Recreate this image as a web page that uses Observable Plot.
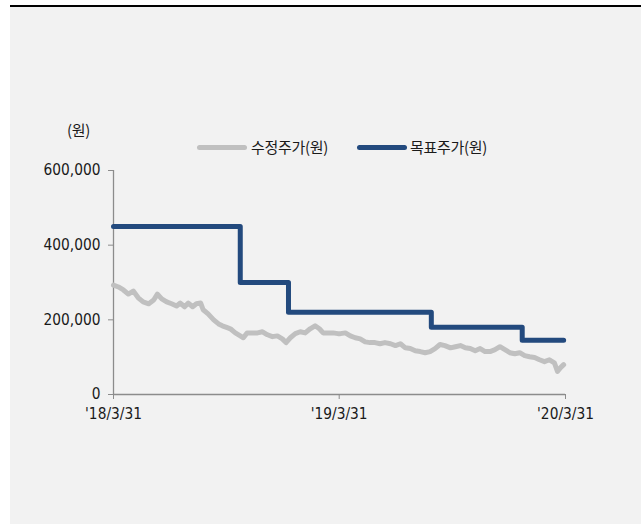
<!DOCTYPE html>
<html><head><meta charset="utf-8">
<script src="https://cdn.jsdelivr.net/npm/d3@7"></script>
<script src="https://cdn.jsdelivr.net/npm/@observablehq/plot@0.6"></script>
<style>
html,body{margin:0;padding:0;background:#fff;}
#wrap{position:relative;width:641px;height:524px;overflow:hidden;font-family:"Liberation Sans Narrow","DejaVu Sans Condensed","Noto Sans CJK KR",sans-serif;}
#bg{position:absolute;left:10px;top:5px;width:631px;height:519px;background:#f2f2f2;border-top:2.5px solid #000;box-sizing:border-box;}
#chart{position:absolute;left:0;top:0;}
.lbl{position:absolute;font-size:15px;color:#1a1a1a;font-family:"Noto Sans CJK KR",sans-serif;white-space:nowrap;line-height:1;letter-spacing:-0.3px;}
.sw{position:absolute;height:5px;border-radius:3px;}
</style></head>
<body><div id="wrap"><div id="bg"></div><div id="chart"></div>
<div class="lbl" style="left:67px;top:122px;">(원)</div>
<div class="sw" style="left:197px;top:145px;width:50px;background:#c0c0c0;"></div>
<div class="lbl" id="l1" style="left:251px;top:139px;"></div>
<div class="sw" style="left:357px;top:145px;width:50px;background:#234a7e;"></div>
<div class="lbl" id="l2" style="left:410px;top:139px;"></div>
</div>
<script>
const seriesNames = ["수정주가(원)", "목표주가(원)"];
const yTicks = [0, 200000, 400000, 600000];
const xTickDates = ["2018-03-31", "2019-03-31", "2020-03-31"];
const xTickLabels = ["'18/3/31", "'19/3/31", "'20/3/31"];

const priceDates = ["2018-03-31","2018-04-08","2018-04-16","2018-04-24","2018-05-02","2018-05-10","2018-05-18","2018-05-27","2018-06-04","2018-06-10","2018-06-17","2018-06-25","2018-07-03","2018-07-11","2018-07-17","2018-07-24","2018-07-30","2018-08-06","2018-08-12","2018-08-19","2018-08-23","2018-08-31","2018-09-09","2018-09-17","2018-09-23","2018-10-01","2018-10-06","2018-10-14","2018-10-22","2018-10-27","2018-11-02","2018-11-10","2018-11-19","2018-11-27","2018-12-05","2018-12-13","2018-12-21","2018-12-29","2019-01-04","2019-01-11","2019-01-19","2019-01-27","2019-02-04","2019-02-12","2019-02-20","2019-02-27","2019-03-05","2019-03-13","2019-03-21","2019-03-29","2019-04-02","2019-04-10","2019-04-18","2019-04-26","2019-05-04","2019-05-12","2019-05-20","2019-05-28","2019-06-05","2019-06-13","2019-06-22","2019-06-30","2019-07-08","2019-07-16","2019-07-24","2019-08-01","2019-08-09","2019-08-17","2019-08-25","2019-09-02","2019-09-10","2019-09-18","2019-09-27","2019-10-05","2019-10-13","2019-10-21","2019-10-29","2019-11-06","2019-11-14","2019-11-22","2019-11-30","2019-12-08","2019-12-16","2019-12-24","2020-01-01","2020-01-09","2020-01-17","2020-01-25","2020-02-02","2020-02-10","2020-02-18","2020-02-26","2020-03-05","2020-03-13","2020-03-18","2020-03-23","2020-03-28"];
const priceValues = [293000,288000,280000,269000,277000,259000,248000,243000,253000,269000,256000,248000,243000,237000,245000,235000,245000,235000,243000,245000,227000,216000,200000,189000,184000,179000,176000,165000,157000,152000,165000,165000,165000,168000,160000,155000,157000,149000,139000,152000,163000,168000,165000,176000,184000,176000,165000,165000,165000,163000,163000,165000,157000,152000,149000,141000,139000,139000,136000,139000,136000,131000,136000,125000,123000,117000,115000,112000,115000,123000,134000,131000,125000,128000,131000,125000,123000,117000,123000,115000,115000,120000,128000,120000,112000,109000,112000,104000,101000,99000,93000,88000,93000,85000,62000,72000,80000];

const targetDates = ["2018-03-31","2018-10-22","2019-01-08","2019-08-27","2020-01-21","2020-03-28"];
const targetValues = [450000,300000,220000,180000,145000,145000];

document.getElementById("l1").textContent = seriesNames[0];
document.getElementById("l2").textContent = seriesNames[1];

const parse = d3.utcParse("%Y-%m-%d");
const price = priceDates.map((d,i)=>({date:parse(d), value:priceValues[i]}));
const target = targetDates.map((d,i)=>({date:parse(d), value:targetValues[i]}));
const xTicks = xTickDates.map(parse);

const axisColor = "#8c8c8c";
const chart = Plot.plot({
  width: 641, height: 524,
  marginLeft: 113, marginRight: 76, marginTop: 170, marginBottom: 130,
  style: {background: "transparent", fontFamily: '"Liberation Sans Narrow","DejaVu Sans Condensed",sans-serif', fontSize: "15.3px", color: "#1a1a1a"},
  x: {type: "utc", domain: [xTicks[0], xTicks[2]]},
  y: {domain: [0, 600000]},
  marks: [
    Plot.ruleX([xTicks[0]], {y1: 0, y2: 600000, stroke: axisColor, strokeWidth: 1.3}),
    Plot.ruleY([0], {x1: xTicks[0], x2: xTicks[2], stroke: axisColor, strokeWidth: 1.3}),
    Plot.axisY({ticks: yTicks, tickFormat: d3.format(","), tickSize: 5, tickPadding: 8, stroke: axisColor, label: null, fill: "#1a1a1a"}),
    Plot.axisX({ticks: xTicks, tickFormat: (d,i)=>xTickLabels[i], tickSize: 5, tickPadding: 9, stroke: axisColor, label: null, fill: "#1a1a1a"}),
    Plot.line(price, {x: "date", y: "value", stroke: "#c0c0c0", strokeWidth: 5, strokeLinejoin: "round", strokeLinecap: "round"}),
    Plot.line(target, {x: "date", y: "value", curve: "step-after", stroke: "#234a7e", strokeWidth: 5, strokeLinejoin: "round", strokeLinecap: "round"})
  ]
});
document.getElementById("chart").appendChild(chart);
</script>
</body></html>
